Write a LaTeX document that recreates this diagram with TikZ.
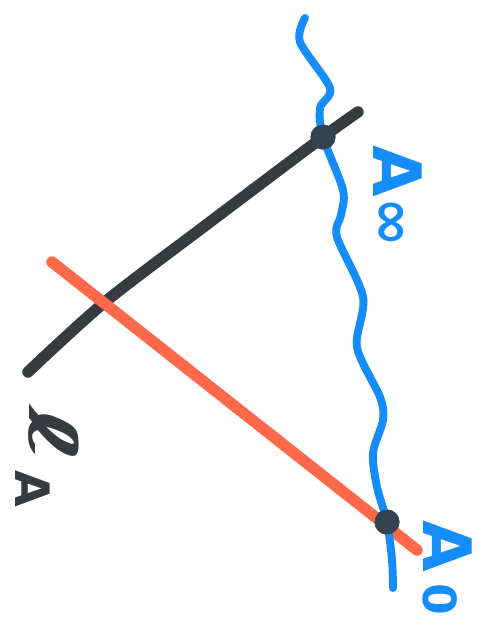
\documentclass[tikz,border=0pt]{standalone}
\usepackage{fontspec}
\newfontfamily\penfont{DejaVu Sans}
\usepackage{tikz}
\usetikzlibrary{positioning}

\definecolor{penblue}{RGB}{20,140,250}
\definecolor{penred}{RGB}{255,105,75}
\definecolor{pengray}{RGB}{55,58,62}

\newcommand{\pensub}[3]{{\fontsize{#1}{#1}\selectfont\raisebox{#2}{#3}}}

\begin{document}
\begin{tikzpicture}[
    x=0.02cm,y=-0.02cm,
    curve/.style={penblue,line width=4.5pt,line cap=round,line join=round},
    graphline/.style={pengray,line width=6.5pt,line cap=round},
    secline/.style={penred,line width=6.5pt,line cap=round},
    hit/.style={circle,fill=pengray!90!penblue,inner sep=0pt,minimum size=0.5cm},
    lbl/.style={rotate=-90,anchor=base west,inner sep=0pt,font=\penfont\bfseries\fontsize{38}{38}\selectfont}
]
\useasboundingbox (0,0) rectangle (490,625);

\coordinate (gstart) at (28,372);
\coordinate (gend) at (358,112);
\coordinate (sstart) at (52,262);
\coordinate (send) at (417,550);
\coordinate (ctop) at (305,18);
\coordinate (cbot) at (393,588);

\node[hit] (Ainf) at (323,137) {};
\node[hit] (Azero) at (387,522) {};

\draw[graphline] plot[smooth] coordinates {(gstart) (105,302) (210,222) (Ainf.center) (gend)};
\draw[secline] (sstart) -- (send);
\draw[curve] plot[smooth] coordinates {(ctop) (300,42) (330,88) (320,108) (Ainf.center) (343,190) (341,215) (337,237) (363,297) (357,347) (380,397) (383,420) (373,453) (377,487) (Azero.center) (392,560) (cbot)};
\node[hit] at (Ainf) {};
\node[hit] at (Azero) {};

\node[lbl,penblue] (labinf) at (373,145) {A\pensub{34}{0pt}{∞}};
\node[lbl,penblue] (labzero) at (423,520) {A\,\pensub{26}{0pt}{0}};
\node[lbl,pengray] (labell) at (30,405) {\scalebox{1.9}[1]{ℓ}\kern3pt\pensub{27}{-8pt}{A}};
\end{tikzpicture}
\end{document}
